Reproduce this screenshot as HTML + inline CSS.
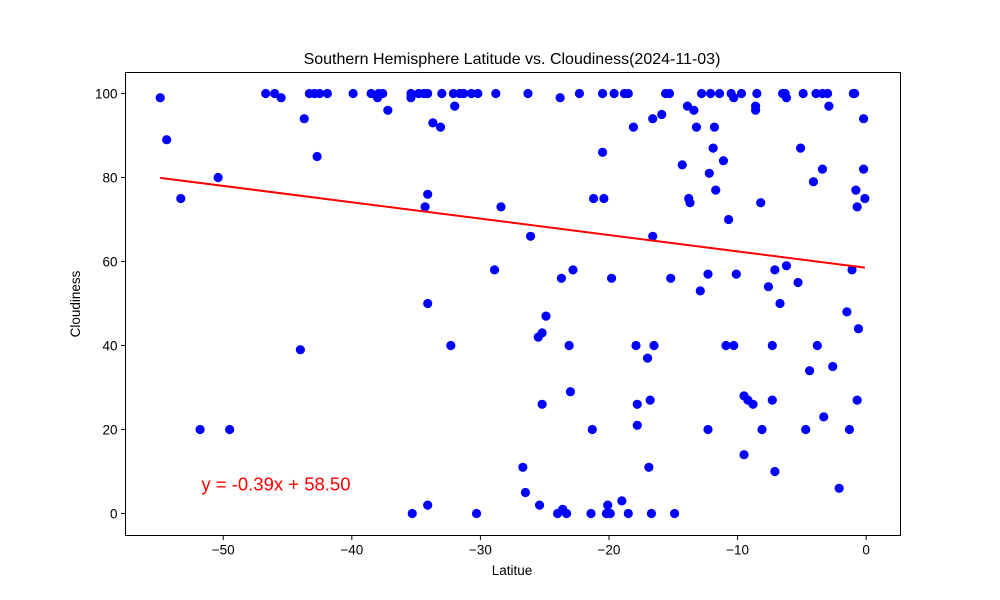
<!DOCTYPE html>
<html><head><meta charset="utf-8"><style>
html,body{margin:0;padding:0;background:#fff;}
svg{display:block;font-family:"Liberation Sans","DejaVu Sans",sans-serif;}
</style></head><body>
<svg id="chart" width="1000" height="600" viewBox="0 0 1000 600">
<rect x="0" y="0" width="1000" height="600" fill="#fff"/>
<text x="512" y="64" text-anchor="middle" font-size="16">Southern Hemisphere Latitude vs. Cloudiness(2024-11-03)</text>
<text x="512" y="575" text-anchor="middle" font-size="13.5">Latitue</text>
<text x="0" y="0" transform="translate(80,304) rotate(-90)" text-anchor="middle" font-size="13.5">Cloudiness</text>
<g id="marks"></g>
<rect x="125.5" y="72.5" width="775" height="463" fill="none" stroke="#000" stroke-width="1"/>
</svg>
<script>
const lats = [-54.9,-54.4,-53.3,-51.8,-50.4,-49.5,-46.7,-46.0,-45.5,-43.7,-44.0,-43.3,-42.9,-42.5,-42.7,-41.9,-39.9,-38.5,-38.0,-37.6,-37.9,-37.2,-35.4,-35.4,-35.3,-34.8,-34.4,-34.1,-34.3,-34.1,-34.1,-34.1,-33.7,-33.1,-33.0,-32.3,-32.1,-32.0,-31.6,-31.3,-30.7,-30.2,-30.3,-28.9,-28.8,-28.4,-26.7,-26.5,-26.3,-26.1,-25.5,-25.2,-24.9,-25.2,-25.4,-24.0,-23.6,-23.3,-23.8,-23.7,-23.1,-23.0,-22.8,-22.3,-21.4,-21.3,-21.2,-20.5,-20.5,-20.4,-20.1,-20.2,-19.9,-19.8,-19.6,-19.0,-18.8,-18.5,-18.5,-18.1,-17.9,-17.8,-17.8,-17.0,-16.9,-16.8,-16.7,-16.6,-16.6,-16.5,-15.9,-15.6,-15.3,-15.2,-14.9,-14.3,-13.9,-13.8,-13.7,-13.4,-13.2,-12.9,-12.8,-12.3,-12.3,-12.2,-12.1,-11.9,-11.8,-11.7,-11.4,-11.1,-10.9,-10.7,-10.5,-10.3,-10.3,-10.1,-9.7,-9.5,-9.5,-9.2,-8.8,-8.6,-8.6,-8.5,-8.2,-8.1,-7.6,-7.3,-7.3,-7.1,-7.1,-6.7,-6.5,-6.3,-6.2,-6.2,-5.3,-5.1,-4.9,-4.7,-4.4,-4.1,-3.9,-3.4,-3.0,-3.8,-3.4,-3.3,-2.9,-2.6,-2.1,-1.5,-1.3,-1.1,-1.0,-0.9,-0.8,-0.7,-0.7,-0.6,-0.2,-0.2,-0.1];
const clouds = [99,89,75,20,80,20,100,100,99,94,39,100,100,100,85,100,100,100,99,100,100,96,99,100,0,100,100,100,73,76,50,2,93,92,100,40,100,97,100,100,100,100,0,58,100,73,11,5,100,66,42,43,47,26,2,0,1,0,99,56,40,29,58,100,0,20,75,100,86,75,2,0,0,56,100,3,100,100,0,92,40,26,21,37,11,27,0,94,66,40,95,100,100,56,0,83,97,75,74,96,92,53,100,20,57,81,100,87,92,77,100,84,40,70,100,99,40,57,100,28,14,27,26,97,96,100,74,20,54,40,27,10,58,50,100,100,99,59,55,87,100,20,34,79,100,100,100,40,82,23,97,35,6,48,20,58,100,100,77,73,27,44,94,82,75];
const xTicks = [-50,-40,-30,-20,-10,0];
const yTicks = [0,20,40,60,80,100];
const slope = [-0.39];
const intercept = [58.50];

const X0=125.5, X1=900.5, Y0=72.5, Y1=535.5;
const xMin=-57.6, xMax=2.67, yMin=-5.24, yMax=105.0;
function sx(v){return X0+(v-xMin)/(xMax-xMin)*(X1-X0);}
function sy(v){return Y1-(v-yMin)/(yMax-yMin)*(Y1-Y0);}
const NS='http://www.w3.org/2000/svg';
const svg=document.getElementById('chart');
const g=document.getElementById('marks');
function mk(tag,attrs,parent){const e=document.createElementNS(NS,tag);for(const k in attrs)e.setAttribute(k,attrs[k]);(parent||g).appendChild(e);return e;}

xTicks.forEach(t=>{
  const x=sx(t);
  const l=mk('line',{x1:x,x2:x,y1:Y1,y2:Y1+4.5,stroke:'#000','stroke-width':1},svg);
  
  
  const tx=mk('text',{x:x,y:Y1+19,'text-anchor':'middle','font-size':13.5},svg);
  tx.textContent=(t<0?'\u2212'+Math.abs(t):t);
  
  
});
yTicks.forEach(t=>{
  const y=sy(t);
  const l=mk('line',{x1:X0-4.5,x2:X0,y1:y,y2:y,stroke:'#000','stroke-width':1},svg);
  
  
  const tx=mk('text',{x:X0-8,y:y+5,'text-anchor':'end','font-size':13.5},svg);
  tx.textContent=t;
  
  
});

lats.forEach((la,i)=>{
  const c=mk('circle',{cx:sx(la),cy:sy(clouds[i]),r:4.6,fill:'#0000ff'});
  
  
});

const lo=Math.min(...lats), hi=Math.max(...lats);
const ln=mk('line',{x1:sx(lo),y1:sy(slope[0]*lo+intercept[0]),x2:sx(hi),y2:sy(slope[0]*hi+intercept[0]),stroke:'#ff0000','stroke-width':2});



const eq=mk('text',{x:sx(-51.7),y:sy(6)+2,'font-size':18.5,fill:'#ff0000'});
eq.textContent='y = '+slope[0].toFixed(2)+'x + '+intercept[0].toFixed(2);


</script>
</body></html>
